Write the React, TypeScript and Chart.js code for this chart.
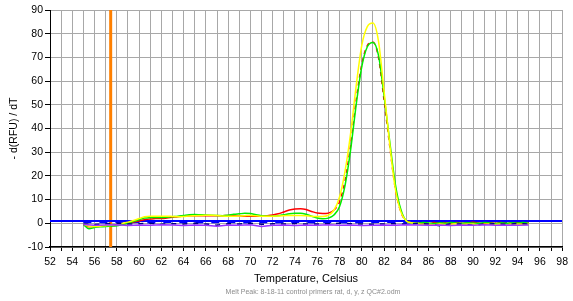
import React, { useEffect, useRef } from "react";
import { Chart, registerables } from "chart.js";

Chart.register(...registerables);

const temps = [
  55, 55.5, 56, 56.5, 57, 57.5, 58, 58.5, 59, 59.5,
  60, 60.5, 61, 61.5, 62, 62.5, 63, 63.5, 64, 64.5,
  65, 65.5, 66, 66.5, 67, 67.5, 68, 68.5, 69, 69.5,
  70, 70.5, 71, 71.5, 72, 72.5, 73, 73.5, 74, 74.5,
  75, 75.5, 76, 76.5, 77, 77.5, 78, 78.5, 79, 79.5,
  80, 80.5, 81, 81.5, 82, 82.5, 83, 83.5, 84, 84.5,
  85, 85.5, 86, 86.5, 87, 87.5, 88, 88.5, 89, 89.5,
  90, 90.5, 91, 91.5, 92, 92.5, 93, 93.5, 94, 94.5, 95,
];

const redValues = [
  -0.5, -1.5, -1.5, -1.2, -1.0, -1.0, -0.8, -0.3, 0.0, 0.5,
  1.0, 1.5, 1.8, 2.0, 2.0, 2.2, 2.5, 2.8, 3.0, 3.2,
  3.2, 3.2, 3.2, 3.2, 3.2, 3.2, 3.3, 3.3, 3.2, 3.0,
  3.0, 3.0, 3.0, 3.2, 3.5, 4.0, 4.8, 5.6, 6.0, 6.1,
  5.8, 5.0, 4.3, 4.1, 4.3, 5.5, 9, 18, 33, 52,
  67, 75, 76.5, 70, 52, 33, 15, 5, 1, 0.3,
  0.0, 0.2, -0.2, 0.3, 0.0, 0.2, -0.1, 0.3, 0.0, 0.2,
  0.4, 0.1, -0.1, 0.2, 0.0, 0.3, -0.1, 0.1, 0.2, 0.0, 0.1,
];

const greenValues = [
  -0.5, -2.3, -1.8, -1.5, -1.3, -1.2, -1.0, -0.5, 0.0, 0.8,
  1.5, 2.2, 2.4, 2.5, 2.5, 2.6, 2.8, 3.0, 3.3, 3.6,
  3.7, 3.6, 3.5, 3.4, 3.3, 3.2, 3.4, 3.8, 4.0, 4.2,
  4.1, 3.6, 3.2, 3.0, 3.0, 3.2, 3.6, 4.0, 4.2, 4.2,
  3.8, 3.0, 2.2, 1.9, 2.2, 3.5, 7, 16, 31, 50,
  66, 74.5, 76.3, 71, 54, 35, 17, 6, 1, 0.2,
  0.0, 0.3, 0.1, -0.1, 0.2, 0.0, 0.3, 0.1, 0.0, 0.2,
  0.1, 0.0, 0.3, 0.1, -0.1, 0.2, 0.0, 0.2, 0.1, 0.3, 0.0,
];

const yellowValues = [
  -0.3, -1.2, -1.3, -1.2, -1.0, -0.8, -0.5, 0.0, 0.5, 1.2,
  2.0, 2.8, 3.0, 3.0, 3.0, 3.0, 2.9, 2.8, 2.9, 3.1,
  3.2, 3.3, 3.4, 3.4, 3.3, 3.1, 3.0, 3.0, 3.1, 3.2,
  3.3, 3.2, 3.0, 3.0, 3.0, 3.1, 3.2, 3.3, 3.3, 3.3,
  3.2, 3.0, 2.9, 2.9, 3.4, 5.5, 11, 22, 38, 58,
  75, 83, 84.5, 77, 56, 34, 15, 5, 1, 0.2,
  -0.3, -0.5, -0.4, -0.6, -0.3, -0.5, -0.4, -0.2, -0.5, -0.4,
  -0.3, -0.6, -0.4, -0.3, -0.5, -0.4, -0.6, -0.3, -0.4, -0.5, -0.3,
];

const noiseTemps = [
  55, 56, 57, 58, 59, 60, 61, 62, 63, 64,
  65, 66, 67, 68, 69, 70, 71, 72, 73, 74,
  75, 76, 77, 78, 79, 80, 81, 82, 83, 84,
  85, 86, 87, 88, 89, 90, 91, 92, 93, 94, 95,
];

const navyValues = [
  -0.3, -0.5, -0.2, 0.0, -0.3, -0.2, 0.0, -0.4, -0.2, -0.3,
  0.0, -0.3, -0.8, -0.2, -0.3, 0.0, -0.4, -0.2, -0.3, -0.1,
  -0.3, -0.3, -0.2, 0.0, -0.2, -0.3, -0.4, -0.3, -0.2, -0.3,
  -0.1, -0.3, -1.0, -0.2, -0.3, -0.9, -0.3, -0.2, -0.4, -0.1, -0.3,
];

const purpleValues = [
  -0.5, -0.8, -0.7, -0.6, -0.9, -0.7, -0.8, -0.6, -0.7, -0.9,
  -0.7, -0.8, -1.2, -0.7, -0.8, -0.6, -1.3, -0.8, -0.7, -0.9,
  -0.7, -0.8, -0.6, -0.8, -0.7, -0.9, -0.8, -0.7, -0.8, -0.6,
  -0.7, -0.8, -0.7, -0.9, -0.7, -0.8, -0.6, -0.8, -0.7, -0.8, -0.7,
];

const blueValues = [
  0.3, 0.4, 0.2, 0.5, 0.3, 0.4, 0.2, 0.3, 0.5, 0.3,
  0.2, 0.4, 0.3, 0.5, 0.2, 0.3, 0.4, 0.2, 0.3, 0.5,
  0.3, 0.2, 0.4, 0.3, 0.2, 0.4, 0.3, 0.5, 0.3, 0.2,
  0.4, 0.3, 0.2, 0.4, 0.3, 0.5, 0.2, 0.3, 0.4, 0.3, 0.2,
];

const thresholdTemps = [52, 98];
const thresholdValues = [1.0, 1.0];
const markerTemps = [57.45, 57.45];
const markerValues = [-10, 90];

const xTickMin = 52;
const xTickMax = 98;
const yTickMin = -10;
const yTickMax = 90;

const xTitle = "Temperature, Celsius";
const yTitle = "- d(RFU) / dT";
const footnote = "Melt Peak: 8-18-11 control primers rat, d, y, z QC#2.odm";

const pairs = (xs: number[], ys: number[]) => xs.map((x, i) => ({ x, y: ys[i] }));

const FONT = "'Liberation Sans', Arial, sans-serif";

export default function App() {
  const ref = useRef<HTMLCanvasElement | null>(null);

  useEffect(() => {
    if (!ref.current) return;
    const footPlugin = {
      id: "foot",
      afterDraw(chart: any) {
        const ctx = chart.ctx;
        ctx.save();
        ctx.font = `7px ${FONT}`;
        ctx.fillStyle = "#8c8c8c";
        ctx.textAlign = "center";
        ctx.textBaseline = "middle";
        ctx.fillText(footnote, 313, 292);
        ctx.restore();
      },
    };
    const peakDash = (ctx: any) =>
      ctx.p0.parsed.x >= 77.5 && ctx.p1.parsed.x <= 84.5 ? [4, 4] : undefined;
    const chart = new Chart(ref.current, {
      type: "line",
      data: {
        datasets: [
          { data: pairs(noiseTemps, purpleValues), borderColor: "#9933ff", borderWidth: 1.5, tension: 0 },
          { data: pairs(noiseTemps, navyValues), borderColor: "#000080", borderWidth: 1.5, borderDash: [5, 6], tension: 0 },
          { data: pairs(temps, yellowValues), borderColor: "#ffff00", borderWidth: 1.5, cubicInterpolationMode: "monotone" },
          { data: pairs(temps, greenValues), borderColor: "#00ee00", borderWidth: 1.5, cubicInterpolationMode: "monotone" },
          { data: pairs(temps, redValues), borderColor: "#ff0000", borderWidth: 1.5, cubicInterpolationMode: "monotone", segment: { borderDash: peakDash } },
          { data: pairs(noiseTemps, blueValues), borderColor: "#0000ff", borderWidth: 1.5, borderDash: [8, 8], tension: 0 },
          { data: pairs(thresholdTemps, thresholdValues), borderColor: "#0000ff", borderWidth: 2 },
          { data: pairs(markerTemps, markerValues), borderColor: "#ff8000", borderWidth: 3 },
        ] as any,
      },
      options: {
        animation: false,
        responsive: false,
        elements: { point: { radius: 0 }, line: { tension: 0.4 } },
        layout: { padding: { top: 10, right: 5.5, left: 0, bottom: 0 } },
        plugins: { legend: { display: false }, tooltip: { enabled: false } },
        scales: {
          x: {
            type: "linear",
            min: xTickMin,
            max: xTickMax,
            afterFit: (s: any) => { s.height = 54; },
            ticks: {
              stepSize: 1,
              autoSkip: false,
              maxRotation: 0,
              padding: 5,
              color: "#000",
              font: { family: FONT, size: 10.5 },
              callback: (v: any) => (Number(v) % 2 === 0 ? String(v) : ""),
            },
            grid: { color: "#a8a8a8", tickColor: "#000", tickLength: 4, lineWidth: 1 },
            border: { color: "#000", width: 1.5 },
            title: {
              display: true,
              text: xTitle,
              color: "#000",
              font: { family: FONT, size: 11 },
              padding: { top: 0, bottom: 15 },
            },
          },
          y: {
            min: yTickMin,
            max: yTickMax,
            afterFit: (s: any) => { s.width = 50; },
            ticks: {
              stepSize: 10,
              padding: 2,
              color: "#000",
              font: { family: FONT, size: 10.5 },
            },
            grid: { color: "#a8a8a8", tickColor: "#000", tickLength: 5, lineWidth: 1 },
            border: { color: "#000", width: 1 },
            title: {
              display: true,
              text: yTitle,
              color: "#000",
              font: { family: FONT, size: 10.5 },
              padding: { top: 8, bottom: 0 },
            },
          },
        },
      },
      plugins: [footPlugin],
    });
    return () => chart.destroy();
  }, []);

  return (
    <div style={{ position: "fixed", left: 0, top: 0, width: 573, height: 301, background: "#fff" }}>
      <canvas ref={ref} width={573} height={301} style={{ width: 573, height: 301, display: "block" }} />
    </div>
  );
}
